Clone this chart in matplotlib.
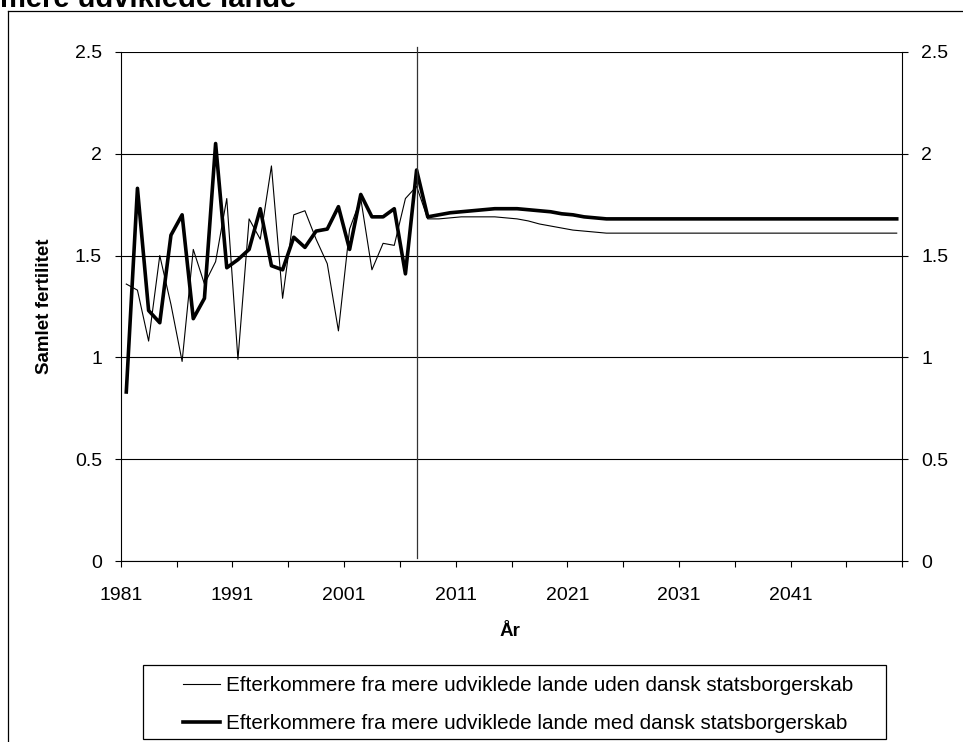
import matplotlib.pyplot as plt
from matplotlib.patches import Rectangle
from matplotlib.lines import Line2D

plt.rcParams['font.family'] = ['Liberation Sans', 'DejaVu Sans']

years = list(range(1981, 2051))

# samlet fertilitet, uden dansk statsborgerskab (tynd linje)
uden = [1.36, 1.33, 1.08, 1.50, 1.26, 0.98, 1.53, 1.36, 1.47, 1.78,
        0.99, 1.68, 1.58, 1.94, 1.29, 1.70, 1.72, 1.58, 1.46, 1.13,
        1.63, 1.78, 1.43, 1.56, 1.55, 1.78, 1.84,
        1.68, 1.68, 1.685, 1.69, 1.69, 1.69, 1.69, 1.685, 1.68, 1.67,
        1.655, 1.645, 1.635, 1.625, 1.62, 1.615, 1.61,
        1.61, 1.61, 1.61, 1.61, 1.61, 1.61, 1.61, 1.61, 1.61, 1.61,
        1.61, 1.61, 1.61, 1.61, 1.61, 1.61, 1.61, 1.61, 1.61, 1.61,
        1.61, 1.61, 1.61, 1.61, 1.61, 1.61]

# samlet fertilitet, med dansk statsborgerskab (tyk linje)
med = [0.83, 1.83, 1.23, 1.17, 1.60, 1.70, 1.19, 1.29, 2.05, 1.44,
       1.48, 1.53, 1.73, 1.45, 1.43, 1.59, 1.54, 1.62, 1.63, 1.74,
       1.53, 1.80, 1.69, 1.69, 1.73, 1.41, 1.92,
       1.69, 1.70, 1.71, 1.715, 1.72, 1.725, 1.73, 1.73, 1.73, 1.725,
       1.72, 1.715, 1.705, 1.70, 1.69, 1.685, 1.68,
       1.68, 1.68, 1.68, 1.68, 1.68, 1.68, 1.68, 1.68, 1.68, 1.68,
       1.68, 1.68, 1.68, 1.68, 1.68, 1.68, 1.68, 1.68, 1.68, 1.68,
       1.68, 1.68, 1.68, 1.68, 1.68, 1.68]

labels = ['Efterkommere fra mere udviklede lande uden dansk statsborgerskab',
          'Efterkommere fra mere udviklede lande med dansk statsborgerskab']
last_obs_year = 2007
y_ticks = [0, 0.5, 1, 1.5, 2, 2.5]
y_ticklabels = ['0', '0.5', '1', '1.5', '2', '2.5']

W, H = 963, 742
fig = plt.figure(figsize=(W / 100, H / 100), dpi=100)

def px(x0, y0, x1, y1):
    # pixel box (top-left origin) -> figure fraction rect
    return [x0 / W, 1 - y1 / H, (x1 - x0) / W, (y1 - y0) / H]

ax = fig.add_axes(px(120.7, 51.9, 902.3, 561))

ax.plot(years, uden, color='black', lw=0.8, label=labels[0])
ax.plot(years, med, color='black', lw=2.6, label=labels[1])

ax.axvline(last_obs_year, ymin=0.006, ymax=1.0098, color='#333333', lw=0.9,
           clip_on=False)

ax.set_xlim(years[0] - 0.5, years[-1] + 0.5)
ax.set_ylim(0, 2.5)

xt = [years[0] - 0.5 + 5 * k for k in range(15)]
xl = [str(years[0] + 5 * k) if (k % 2 == 0 and k < 14) else '' for k in range(15)]
ax.set_xticks(xt)
ax.set_xticklabels(xl)
ax.set_yticks(y_ticks)
ax.set_yticklabels(y_ticklabels)

ax.grid(axis='y', color='black', lw=0.8)
ax.set_axisbelow(True)
for s in ['left', 'right', 'bottom']:
    ax.spines[s].set_color('black')
    ax.spines[s].set_linewidth(0.8)
ax.spines['top'].set_visible(False)

ax.tick_params(axis='x', direction='out', length=4.5, width=0.8,
               labelsize=14, pad=14)
ax.tick_params(axis='y', direction='out', length=4.5, width=0.8,
               labelsize=14, pad=9, right=True, labelright=True)

ax.set_ylabel('Samlet fertilitet', fontsize=13.5, fontweight='bold', va='center')
ax.yaxis.set_label_coords(-0.097, 0.5)
ax.set_xlabel('År', fontsize=13.5, fontweight='bold', va='center')
ax.xaxis.set_label_coords(0.498, -0.1375)

# tegneområdets ramme og afskåret titel
fig.add_artist(Line2D([8 / W, 8 / W], [1 - 11 / H, 0], color='black', lw=0.9))
fig.add_artist(Line2D([8 / W, 1], [1 - 11 / H, 1 - 11 / H], color='black', lw=0.9))
fig.text(0.0, 1 - 7 / H, 'mere udviklede lande', fontsize=21, fontweight='bold',
         ha='left', va='baseline')

# forklaring
r = px(142.7, 665, 886, 739.3)
fig.add_artist(Rectangle((r[0], r[1]), r[2], r[3], transform=fig.transFigure,
                         fill=False, edgecolor='black', lw=0.9))
fig.legend(handles=ax.get_lines()[:2], labels=labels, frameon=False,
           loc='upper left', bbox_to_anchor=(183 / W, 1 - 676 / H),
           fontsize=14.9, handlelength=1.8, handletextpad=0.3,
           labelspacing=0.92, borderpad=0, borderaxespad=0)

fig.savefig('out.png', dpi=100)
